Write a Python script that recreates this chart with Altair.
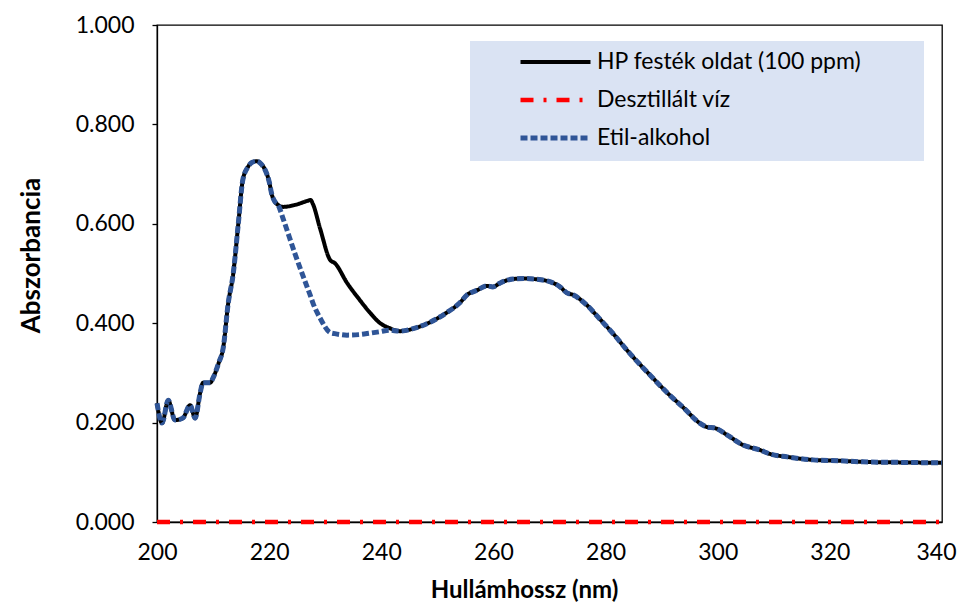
import altair as alt
import pandas as pd

names = ["HP festék oldat (100 ppm)", "Desztillált víz", "Etil-alkohol"]

wavelength = [200.0, 200.9, 202.0, 203.2, 204.6, 205.9, 206.8, 207.7, 208.2, 209.5,
              210.0, 211.0, 211.8, 212.7, 213.6, 214.5, 215.3, 216.2, 217.0, 217.8,
              218.6, 219.3, 220.0, 220.5, 221.0, 221.6, 222.5, 224.6, 226.8, 227.4,
              227.8, 229.1, 230.9, 231.7, 233.9, 236.0, 238.0, 239.8, 241.5, 243.3,
              246.0, 248.7, 251.5, 254.0, 255.3, 257.0, 258.9, 259.9, 261.2, 263.5,
              265.5, 267.1, 269.6, 271.9, 273.1, 274.2, 276.5, 279.0, 281.5, 283.8,
              287.9, 291.0, 293.8, 296.8, 298.1, 299.5, 301.7, 304.5, 307.5, 309.3,
              312.4, 317.0, 322.0, 325.9, 332.0, 340.0]

hp = [0.239, 0.199, 0.245, 0.205, 0.209, 0.235, 0.209, 0.260, 0.280, 0.280,
      0.290, 0.320, 0.350, 0.440, 0.500, 0.600, 0.688, 0.714, 0.724, 0.726,
      0.720, 0.708, 0.685, 0.658, 0.645, 0.638, 0.634, 0.638, 0.646, 0.648,
      0.640, 0.590, 0.527, 0.521, 0.481, 0.449, 0.421, 0.400, 0.390, 0.384,
      0.390, 0.402, 0.420, 0.441, 0.457, 0.466, 0.475, 0.473, 0.481, 0.489,
      0.490, 0.489, 0.485, 0.473, 0.461, 0.457, 0.438, 0.408, 0.377, 0.346,
      0.296, 0.260, 0.231, 0.199, 0.191, 0.189, 0.175, 0.155, 0.145, 0.137,
      0.131, 0.125, 0.123, 0.121, 0.120, 0.119]

etil = [0.239, 0.199, 0.245, 0.205, 0.209, 0.235, 0.209, 0.260, 0.280, 0.280,
        0.290, 0.320, 0.350, 0.440, 0.500, 0.600, 0.688, 0.714, 0.724, 0.726,
        0.720, 0.708, 0.685, 0.658, 0.645, 0.638, 0.610, 0.540, 0.472, 0.454,
        0.441, 0.410, 0.381, 0.379, 0.376, 0.377, 0.380, 0.383, 0.386, 0.384,
        0.390, 0.402, 0.420, 0.441, 0.457, 0.466, 0.475, 0.473, 0.481, 0.489,
        0.490, 0.489, 0.485, 0.473, 0.461, 0.457, 0.438, 0.408, 0.377, 0.346,
        0.296, 0.260, 0.231, 0.199, 0.191, 0.189, 0.175, 0.155, 0.145, 0.137,
        0.131, 0.125, 0.123, 0.121, 0.120, 0.119]

water_wl = [200.0, 340.0]
water = [0.000, 0.000]

x_ticks = [200, 220, 240, 260, 280, 300, 320, 340]
y_ticks = [0.0, 0.2, 0.4, 0.6, 0.8, 1.0]

colors = ["#000000", "#FF0000", "#2F5597"]
dashes = [[1, 0], [13, 10, 3, 10], [7, 3]]
widths = [4.0, 5.0, 2.0]

df = pd.concat([
    pd.DataFrame({"wl": wavelength, "val": hp, "series": names[0]}),
    pd.DataFrame({"wl": wavelength, "val": etil, "series": names[2]}),
    pd.DataFrame({"wl": water_wl, "val": water, "series": names[1]}),
])

FONT = "Lato"
LEG_TITLE = "\u00a0"

x = alt.X("wl:Q", scale=alt.Scale(domain=[200, 340], nice=False, zero=False),
          axis=alt.Axis(values=x_ticks, title="Hullámhossz (nm)", format="d",
                        ticks=False, labelFlush=False, labelPadding=19,
                        labelAlign=alt.ExprRef(expr="datum.value == 340 ? 'right' : 'center'"),
                        labelOffset=alt.ExprRef(expr="datum.value == 340 ? 14 : 0"),
                        titlePadding=14, titleX=367, titleFontSize=24))
y = alt.Y("val:Q", scale=alt.Scale(domain=[0, 1], nice=False),
          axis=alt.Axis(values=y_ticks, title="Abszorbancia", format=".3f",
                        ticks=True, tickSize=5, labelFlush=False,
                        labelPadding=18, titlePadding=31, titleY=230))
color = alt.Color("series:N", scale=alt.Scale(domain=names, range=colors), title=LEG_TITLE)
dash = alt.StrokeDash("series:N", scale=alt.Scale(domain=names, range=dashes), title=LEG_TITLE)
sw = alt.StrokeWidth("series:N", scale=alt.Scale(domain=names, range=widths), title=LEG_TITLE)


def layer(name):
    return alt.Chart(df).transform_filter(alt.datum.series == name).mark_line(
        interpolate="monotone"
    ).encode(x=x, y=y, color=color, strokeDash=dash, strokeWidth=sw)


chart = alt.layer(layer(names[0]), layer(names[2]), layer(names[1])).properties(
    width=785, height=497,
    autosize=alt.AutoSizeParams(type="none"),
    padding={"left": 149, "top": 17, "right": 15, "bottom": 82},
).configure_view(
    stroke="#000000", strokeWidth=1.3
).configure_axis(
    domainColor="#000000", domainWidth=1.3, tickColor="#000000", tickWidth=1.3,
    labelFont=FONT, labelFontSize=23, labelColor="#000000",
    titleFont=FONT, titleFontSize=26, titleFontWeight="bold", titleColor="#000000",
    grid=False,
).configure_legend(
    orient="none", legendX=313, legendY=16,
    fillColor="#DAE3F3", padding=11, symbolType="stroke", symbolSize=4900,
    symbolOffset=37, clipHeight=20, rowPadding=15, labelOffset=4,
    labelFont=FONT, labelFontSize=23, labelColor="#000000", labelLimit=400,
    titleOrient="right", titlePadding=52, titleFontSize=12,
)

chart.save("out.html", embed_options={"renderer": "svg", "actions": False})
